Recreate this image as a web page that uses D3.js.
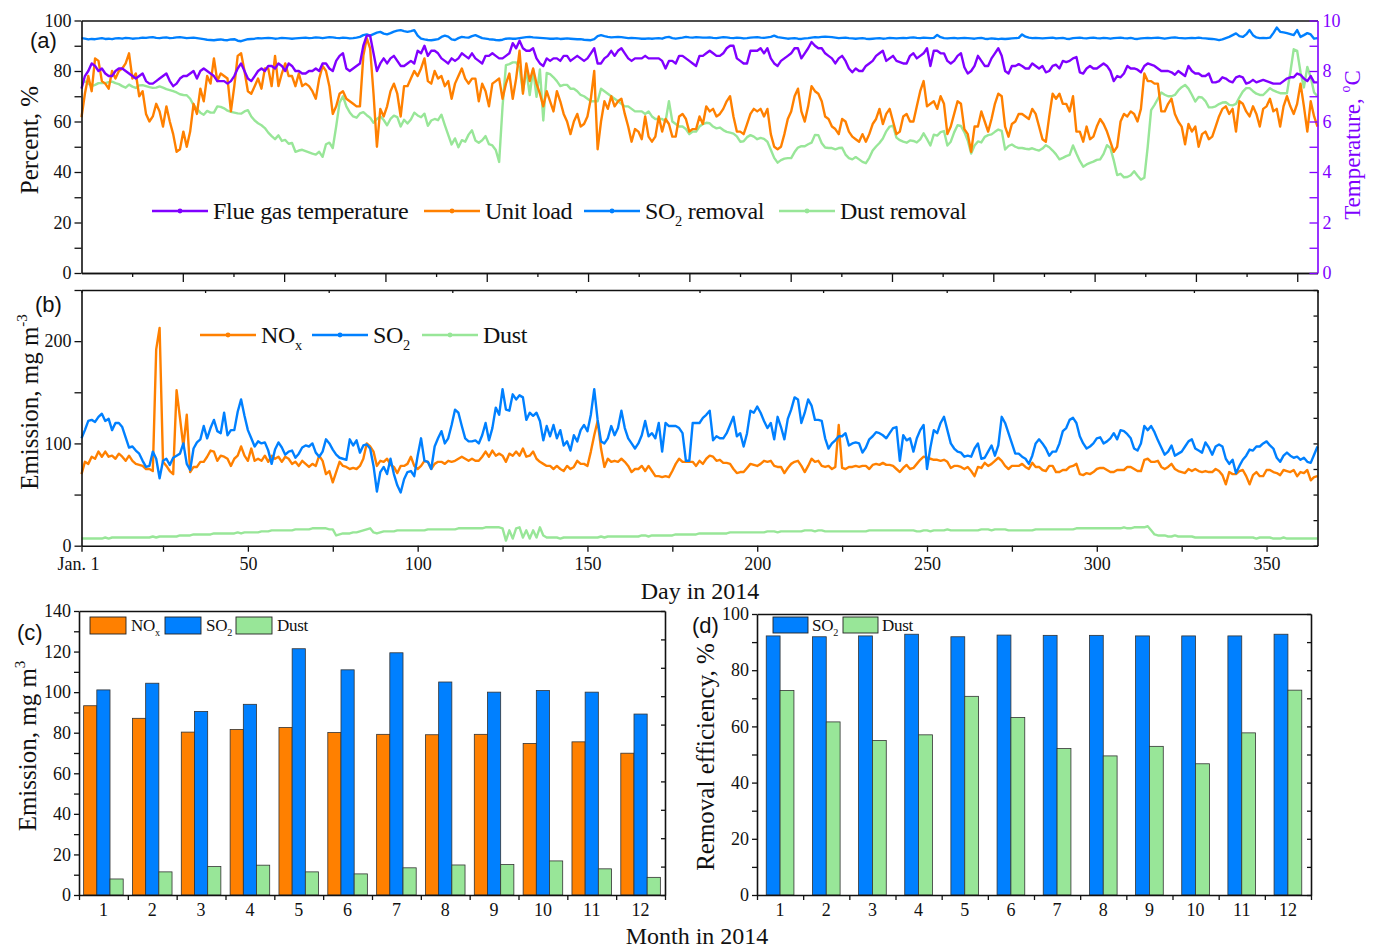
<!DOCTYPE html>
<html>
<head>
<meta charset="utf-8">
<script src="https://cdn.jsdelivr.net/npm/d3@7"></script>
<style>
  body { margin: 0; background: #fff; }
  text { font-family: "Liberation Serif", "Times New Roman", serif; }
  text.tag { font-family: "Liberation Sans", Arial, sans-serif; }
</style>
</head>
<body>
<svg id="fig" width="1373" height="948"></svg>
<script>
// ---- daily data, 2014 ----
// flue gas temperature, plotted on the right axis (0-10)
const flueTemp = [
  7.3,7.8,8.0,8.3,8.2,8.0,8.1,7.9,7.8,7.8, 8.0,8.1,8.1,8.0,7.9,7.8,7.7,7.8,7.9,7.6,
  7.5,7.5,7.6,7.7,7.8,7.9,7.6,7.4,7.5,7.7, 7.8,7.8,7.9,8.0,7.7,8.0,8.1,8.0,7.9,7.8,
  7.6,7.6,7.6,7.5,7.6,7.8,8.1,8.3,8.0,7.7, 7.6,7.8,8.0,8.1,8.0,8.2,8.2,8.1,8.3,8.2,
  8.0,8.3,8.2,8.0,8.0,7.9,7.9,8.0,8.0,8.1, 8.0,8.3,8.3,8.1,8.0,8.4,8.6,8.7,8.1,8.0,
  8.1,8.2,8.3,9.0,9.4,9.4,8.7,8.0,8.3,8.5, 8.3,8.5,8.6,
  8.4,8.2,8.2,8.3,8.4,8.3,8.8,
  8.7,9.0,8.6,8.8,8.8,8.7,8.5,8.4,8.3,8.5, 8.4,8.5,8.7,8.6,8.5,8.7,8.5,8.4,8.3,8.6,
  8.6,8.7,8.6,8.5,8.5,8.6,8.7,9.1,8.9,9.2, 8.9,8.8,8.8,8.9,8.5,8.3,8.2,8.5,8.4,8.5,
  8.5,8.4,8.6,8.6,8.4,8.5,8.6,8.5,8.4,8.5, 8.7,8.9,8.3,8.3,8.5,8.6,8.8,8.6,8.8,8.9,
  8.7,8.5,8.4,8.5,8.5,8.5,8.6,8.5,8.5,8.5, 8.5,8.4,8.1,8.4,8.4,8.3,8.6,8.6,8.5,8.4,
  8.3,8.2,8.6,8.6,
  8.7,8.8,8.7,8.6,8.6,8.7,8.9,9.0,9.0,8.5, 8.4,8.3,8.3,8.8,8.8,8.8,8.9,8.7,8.9,8.5,
  8.3,8.2,8.4,8.5,8.6,8.7,8.9,8.9,8.5,8.7, 8.9,9.15,9.0,8.9,8.9,8.7,8.6,8.5,8.3,8.5,
  8.6,8.4,8.1,7.95,8.1,8.0,8.0,8.2,8.3,8.4, 8.6,8.7,8.8,8.4,8.5,8.6,8.4,8.35,8.3,8.3,
  8.6,8.7,8.5,8.6,8.7,8.9,8.2,8.8,8.8,8.7, 8.7,8.4,8.3,8.4,8.6,8.7,8.15,7.9,8.0,8.2,
  8.6,8.4,8.2,8.2,8.5,8.7,8.9,8.6,8.0,7.9, 8.2,
  8.2,8.27,8.2,8.1,8.1,8.3,8.2,8.1,8.2,7.95, 8.0,8.2,8.25,8.1,8.4,8.35,8.4,8.5,8.55,7.95,
  7.9,8.1,8.2,8.1,8.1,8.2,8.3,8.2,8.0,7.6, 7.8,7.75,7.9,8.2,8.1,8.1,8.05,7.95,8.2,8.3,
  8.25,8.2,8.1,8.0,8.0,8.0,7.95,7.85,8.0,7.9, 7.8,8.2,8.0,7.9,7.9,7.8,7.8,7.9,7.55,7.55,
  7.6,7.75,7.7,7.6,7.55,7.75,7.8,7.75,7.5,7.55, 7.65,7.55,7.6,7.65,7.6,7.55,7.5,7.5,7.5,7.6,
  7.7,7.75,7.75,7.9,7.85,7.7,7.6,7.8,7.55,7.55
];
// unit load, %
const unitLoad = [
  61.7,71,78,72,85,84,76,75,73,80, 77,80,81,83,87,77,79,70,72,63,
  60,62,67,64,58,66,60,55,48,49, 56,50,56,67,63,73,68,78,75,85,
  76,79,78,77,64,74,86,87,80,72, 71,74,77,73,81,81,74,86,74,79,
  83,78,78,74,79,74,75,74,72,69, 77,82,80,74,63,66,71,72,69,68,
  67,66,66,86,93,89,71,50,65,62, 66,72,75,
  71,62,74,74,77,80,78,
  81,85,76,75,80,77,78,74,76,69, 75,78,81,77,75,77,77,68,75,72,
  66,75,76,77,69,75,79,69,77,88, 71,83,76,81,75,71,66,72,68,64,
  72,68,63,60,55,60,63,58,59,62, 69,80,49,60,68,65,70,66,68,69,
  63,58,52,57,56,53,62,54,52,54, 62,56,61,59,54,54,62,63,61,56,
  57,57,62,59,
  66,64,65,62,63,65,68,70,62,56, 56,55,59,63,65,64,65,62,65,55,
  50,49,50,55,61,64,70,73,64,60, 66,74,72,71,68,62,61,58,57,55,
  61,60,56,54,53,52,55,52,55,59, 61,65,59,63,65,60,55,56,62,63,
  60,60,66,72,76,66,67,68,65,70, 67,55,58,63,68,67,57,55,48,58,
  58,64,60,56,61,67,71,70,58,54, 59,
  60,63,63,62,61,65,63,58,53,52, 62,71,69,71,67,67,64,70,56,56,
  52,58,53,54,58,61,59,56,52,48, 50,60,63,62,64,63,60,65,79,76,
  76,75,75,64,64,67,69,63,60,58, 51,59,56,58,50,55,56,53,54,58,
  62,65,66,63,65,56,68,67,64,62, 66,63,58,65,66,69,64,65,58,66,
  70,66,63,67,75,66,56,68,62,58
];
// SO2 removal, %
const so2Removal = [
  93.0,92.8,92.5,92.7,92.6,92.8,93.0,92.7,92.8,92.6, 92.9,93.0,92.8,93.1,93.0,92.8,92.9,93.0,93.2,93.1,
  93.3,93.4,93.1,93.0,93.2,93.3,93.0,93.1,93.3,93.4, 93.2,93.0,93.1,93.2,93.0,92.8,92.6,92.4,92.3,92.2,
  92.4,92.5,92.3,92.2,92.5,92.6,92.0,91.8,92.2,92.6, 92.7,92.8,93.0,92.9,93.0,93.1,93.0,92.8,92.9,93.1,
  93.0,92.9,92.8,92.9,93.0,93.1,93.2,93.0,93.1,93.3, 93.2,93.0,93.2,93.4,93.3,93.1,93.0,93.2,93.1,92.9,
  93.0,93.2,93.5,94.2,94.5,94.0,94.6,95.2,95.5,94.8, 94.5,95.0,95.6,
  96.0,96.2,95.8,95.5,95.8,96.2,94.0,
  92.8,92.5,92.3,92.2,92.4,92.6,93.5,94.0,93.6,92.5, 92.3,93.0,93.5,93.3,93.2,93.8,94.2,93.6,93.0,92.8,
  92.6,92.5,92.3,92.2,92.4,92.8,92.9,92.8,92.8,93.0, 93.2,93.4,93.5,93.3,93.2,93.1,93.0,92.9,92.8,92.8,
  92.9,92.7,92.8,92.9,92.8,92.7,92.6,92.6,92.4,92.3, 92.2,92.6,93.8,94.2,93.8,93.5,93.3,93.4,93.5,93.4,
  93.2,93.0,93.1,93.0,92.9,92.8,92.8,92.9,92.8,92.9, 93.0,92.8,93.3,93.5,93.0,92.8,93.0,93.2,93.5,93.3,
  93.2,93.4,93.3,93.2,
  93.2,93.3,93.1,93.0,93.2,93.4,93.3,93.1,93.0,93.2, 93.1,92.9,93.0,93.2,93.3,93.4,93.2,93.1,93.3,93.5,
  94.0,93.4,93.2,93.0,92.8,92.9,93.0,92.8,92.7,92.9, 93.0,93.2,93.4,93.3,93.5,93.6,93.5,93.4,93.2,93.0,
  93.1,93.2,93.0,92.9,92.8,92.9,93.0,92.8,92.7,92.8, 92.9,93.0,92.8,92.9,93.1,93.0,92.9,93.0,93.1,93.0,
  93.2,93.3,93.1,93.0,93.2,93.1,93.0,93.1,94.3,93.4, 93.0,92.9,93.0,93.1,92.9,93.0,93.1,93.0,92.9,92.8,
  93.0,93.1,92.8,92.7,92.9,92.8,92.6,92.8,92.7,92.8, 92.9,
  93.0,93.1,94.5,93.6,93.2,93.0,93.1,93.0,92.9,93.0, 93.1,93.2,92.9,93.0,93.1,92.8,92.7,93.0,93.1,93.2,
  93.0,92.9,93.1,93.2,93.0,92.9,93.1,93.0,92.8,93.0, 93.1,93.2,93.0,92.9,93.1,92.8,92.7,92.9,93.0,93.1,
  93.0,93.1,93.2,93.0,92.8,93.0,93.2,93.3,93.1,93.0, 92.9,93.0,93.1,93.0,93.2,93.0,92.9,92.8,92.7,92.5,
  92.2,92.5,93.0,93.5,94.2,94.9,93.8,93.5,94.5,96.2, 94.2,93.3,93.0,93.1,93.0,93.2,95.0,97.2,95.5,95.3,
  95.0,94.6,94.2,96.2,93.5,94.2,95.0,94.5,92.8,93.0
];
// dust removal, %
const dustRemoval = [
  75.2,75.9,75,74,74.5,75.2,75.2,75.2,75.6,75.8, 75.2,74.8,74,73.4,74.6,73.8,73.3,74.3,74.4,74,
  73.6,73.3,73.4,73.9,73.4,72.8,72.4,72,71.5,70.8, 70.5,70.4,69,66.5,65,63.5,62.7,64.2,63.5,63.5,
  66,65.8,65.2,64.3,63.8,63.5,63.2,63.1,64,64.5, 62,60.4,59.3,58.5,57.4,55.6,54.2,53,54.5,52.3,
  52.7,51.2,51.5,48,48.5,48.8,48.3,47.8,47.3,46.9, 48,46,51,51.6,49.5,58,67.5,70,66,63.6,
  62,61.5,63.2,63.7,62.5,61.5,59.5,61,62,60.6, 58.5,61,62.3,
  61.7,58,60.7,59.2,60.8,63.5,62.4,
  61.7,63.1,58.3,60.4,61,60.5,62.7,58.6,54.7,50.9, 53.3,49.8,52.6,52,54.8,56.5,52.5,51.6,52.6,54.2,
  51,50.5,48.7,44,66,82.3,82.7,83.4,83.4,81.3, 71.9,80.6,70.5,80.6,69.8,80.6,60.4,79.2,78.8,77.5,
  76,74,74.5,74.5,73,73,72,70.5,70,69, 68,68,68,73,72,71,70,69,68,67,
  66,66,65,64,64,64,63,64,62,61, 61,61,60,68,60,59,58,58,57,55,
  56,56,58,59,
  59.5,59.3,58,57.3,57.6,56.6,55.9,55.6,55.2,54.1, 52,52.2,53.8,54.6,54,53,53.5,53.1,52,48.8,
  45.6,43.7,44.7,45.3,45.5,45.5,47.9,49.7,50.2,50.2, 51,51.6,54.7,54.6,51.4,49.7,49.5,49.5,49,49.5,
  49.6,46.9,45.5,45,45.9,45,44,43.5,45.6,48.5, 50.1,51.5,53.3,56.1,58,58.3,53.6,52.6,52,51.6,
  52.5,52.3,51.7,52.9,55.3,53,50.5,54.8,54.4,55.8, 56.2,50.5,52,55.7,58.5,58.2,55.8,52.5,47.3,50.5,
  52.1,51.7,53.9,54.6,54.9,55.9,56.8,56.3,48.9,50.3, 50.9,
  50,49.5,49.5,49.2,49,49.4,48.9,48.5,49.3,50.6, 49.8,48.5,47,45,45.6,46.3,46.8,50.5,47.3,44.4,
  42.1,43,43.6,44.1,44.8,45,47.2,50.6,49.5,44.6, 38.8,39.3,37.9,38,38.7,40.3,38.5,37,37.7,50,
  64.5,66.6,69,71.5,70.6,70,70,70.5,72.3,73.6, 74.5,73,70.6,67.9,69.7,69.5,68.1,65.6,65.6,66,
  66.9,67.5,67.6,66.6,66.4,67,69.6,71.8,73.2,73.2, 72,71,70.5,70.5,71.8,73.2,72.3,71.7,71.2,71.2,
  71.2,79.5,88.6,88,79.5,73.5,81.6,77.5,71.5,70
];
// emissions, mg m-3
const noxEmission = [
  70,82,80,87,85,92,87,92,87,88, 85,90,87,83,88,83,80,79,78,75,
  75,73,192,213,82,78,73,70,152,125, 97,128,72,77,77,82,82,87,93,92,
  83,88,87,85,78,85,88,97,88,83, 95,83,85,83,88,82,88,85,87,82,
  87,85,80,82,78,83,80,77,80,78, 88,83,70,73,62,72,82,78,77,75,
  76,75,78,85,100,97,92,78,83,82, 85,79,77,
  71,78,78,80,87,78,75,
  78,83,82,75,80,82,82,80,83,82, 83,85,87,85,83,85,83,83,87,92,
  87,93,88,90,88,82,90,88,92,88, 95,87,88,92,85,82,80,78,78,75,
  78,75,73,78,75,77,83,80,80,78, 92,108,122,95,77,85,82,83,82,85,
  82,78,72,75,75,78,73,78,73,68, 68,67,68,67,73,80,85,82,82,82,
  82,78,83,80,
  85,88,87,83,84,81,81,80,75,71, 72,72,76,80,79,78,80,83,82,83,
  78,77,77,71,76,80,82,83,78,72, 78,85,82,83,78,77,78,75,77,118,
  76,75,77,77,78,77,78,78,75,79, 80,79,81,79,79,78,75,72,76,79,
  75,76,80,84,87,86,85,84,84,83, 84,82,76,78,78,77,75,77,73,68,
  77,76,81,78,80,83,86,83,78,75, 78,
  78,78,80,77,75,81,77,77,74,73, 78,78,72,72,74,74,77,78,80,70,
  69,71,70,72,75,76,76,74,72,72, 74,74,74,77,77,75,73,73,84,85,
  82,82,83,77,75,77,80,75,73,72, 71,75,73,75,73,72,73,72,72,75,
  73,69,60,72,70,70,73,74,68,60, 69,72,68,68,74,74,72,71,69,74,
  73,72,74,68,72,71,74,64,67,68
];
const so2Emission = [
  105,113,122,123,121,126,129,122,124,113, 120,120,116,106,96,97,93,90,83,77,
  78,92,85,66,83,85,79,86,88,90, 100,80,74,95,101,104,117,105,115,123,
  112,110,130,108,113,113,131,143,127,113, 105,97,102,100,101,93,80,94,101,96,
  89,92,93,86,90,96,98,97,100,91, 87,92,104,100,94,89,86,85,84,104,
  98,103,91,98,99,95,78,53,72,77, 70,85,70,
  59,52,65,72,73,68,88,
  105,83,82,75,97,105,112,100,105,118, 133,130,117,105,102,102,103,100,108,120,
  103,115,135,128,153,133,132,148,143,147, 145,123,130,127,130,122,103,117,107,118,
  105,113,98,102,93,108,102,113,118,112, 128,153,123,102,100,105,117,108,115,132,
  115,105,100,95,100,108,122,107,110,105, 120,92,120,117,117,117,115,110,83,83,
  120,120,120,125,
  128,132,103,107,105,105,110,118,126,107, 110,97,110,132,130,136,130,122,115,120,
  104,126,116,104,124,133,145,143,120,130, 143,137,123,123,122,105,95,100,103,107,
  107,110,98,100,101,100,91,96,104,107, 111,110,108,105,110,115,116,83,108,103,
  105,92,105,113,118,75,96,113,110,120, 126,113,100,95,92,91,87,88,87,95,
  100,85,86,92,98,88,98,126,120,110, 100,
  90,90,87,85,80,88,100,104,100,95, 88,92,92,100,112,115,123,125,120,107,
  100,95,97,100,105,106,100,102,105,110, 104,113,112,109,105,95,93,100,117,113,
  117,111,103,96,89,92,98,88,90,92, 97,102,104,95,93,91,101,96,89,97,
  99,97,85,80,84,71,78,84,88,94, 93,97,97,100,102,98,95,86,82,88,
  91,88,86,87,84,86,82,81,89,97
];
const dustEmission = [
  7,7,7,7,7,7,7,8,7,8, 8,8,8,8,8,8,8,8,8,8,
  8,9,8,9,9,9,9,9,9,10, 10,10,10,11,11,11,11,11,11,12,
  12,12,12,12,12,12,13,12,13,13, 13,13,13,14,14,14,15,15,15,15,
  15,15,15,16,16,16,16,16,17,17, 17,17,17,16,16,10,11,12,12,12,
  13,13,14,15,16,17,13,12,13,14, 14,14,14,
  15,15,15,15,15,15,15,
  15,15,16,16,16,16,16,16,16,16, 16,17,17,17,17,17,17,17,17,18,
  18,18,18,18,17,5,15,7,17,18, 8,15,7,15,8,18,10,8,8,8,
  8,7,8,8,8,8,8,8,8,8, 8,8,8,9,8,9,9,9,9,9,
  9,9,9,9,9,10,10,9,10,10, 10,10,10,10,10,11,11,11,11,11,
  11,11,12,12,
  12,12,12,12,12,12,12,13,13,13, 13,13,13,13,13,13,13,13,14,14,
  14,13,14,14,14,14,14,14,14,15, 15,15,14,15,15,14,14,14,14,14,
  14,14,14,14,14,14,14,14,15,15, 15,15,15,15,15,15,15,15,15,15,
  15,15,14,14,15,15,14,15,15,15, 15,16,15,15,15,15,15,15,15,15,
  15,16,16,16,15,16,16,16,16,15, 15,
  15,15,15,15,15,15,16,16,16,16, 16,16,16,16,16,16,16,16,17,17,
  17,17,17,17,17,17,17,17,17,17, 17,17,18,17,17,18,18,18,18,19,
  15,11,10,10,10,9,9,10,9,9, 9,9,9,8,8,8,8,8,8,8,
  8,8,8,8,8,8,8,8,8,8, 8,7,8,8,8,8,7,7,7,8,
  7,7,7,7,7,7,7,7,7,7
];

// ---- monthly data ----
const months = [1,2,3,4,5,6,7,8,9,10,11,12];
const monthNOx  = [93.3,87.1,80.3,81.6,82.6,80.1,79.2,79.0,79.2,74.7,75.5,69.9];
const monthSO2  = [101.1,104.4,90.5,94.0,121.4,111.0,119.4,105.0,100.0,100.8,100.0,89.2];
const monthDust = [7.9,11.4,14.0,14.7,11.4,10.4,13.4,14.8,15.0,16.8,12.9,8.7];
const effSO2  = [92.2,91.9,92.2,92.8,91.9,92.5,92.4,92.4,92.2,92.2,92.2,92.8];
const effDust = [72.8,61.6,55.0,57.0,70.7,63.2,52.1,49.5,52.9,46.7,57.7,72.9];

const days = d3.range(1, flueTemp.length + 1);

const col = { orange: '#ff8000', blue: '#0080ff', purple: '#8000ff', green: '#98e698', ink: '#111' };
const svg = d3.select('#fig');
svg.append('rect').attr('width', 1373).attr('height', 948).attr('fill', '#fff');

function styleAxis(g, color, size) {
  g.attr('font-family', null).attr('font-size', size);
  g.select('.domain').attr('stroke', color).attr('stroke-width', 1.6);
  g.selectAll('.tick line').attr('stroke', color).attr('stroke-width', 1.3);
  g.selectAll('.tick text').attr('fill', color);
  return g;
}
function axisAt(x, y, axis, color = col.ink, size = 18) {
  return styleAxis(svg.append('g').attr('transform', `translate(${x},${y})`).call(axis), color, size);
}
function drawLine(arr, x, y, color, w = 2.4) {
  const line = d3.line().x((d, i) => x(days[i])).y(d => y(d));
  svg.append('path').datum(arr).attr('d', line)
    .attr('fill', 'none').attr('stroke', color).attr('stroke-width', w)
    .attr('stroke-linejoin', 'round');
}
// text with a sub/superscript piece: parts = [[text, shift], ...]
function richText(x, y, parts, size, opts = {}) {
  const t = svg.append('text').attr('x', x).attr('y', y).attr('font-size', size)
    .attr('fill', opts.fill || col.ink);
  if (opts.anchor) t.attr('text-anchor', opts.anchor);
  if (opts.rotate) t.attr('transform', `rotate(-90,${x},${y})`);
  if (opts.spacing) t.attr('letter-spacing', opts.spacing);
  if (opts.cls) t.attr('class', opts.cls);
  let prev = 0;
  parts.forEach(([s, shift]) => {
    t.append('tspan').text(s).attr('dy', shift - prev)
      .attr('font-size', shift ? size * 0.6 : size);
    prev = shift;
  });
  return t;
}
function label(x, y, s, size, opts = {}) { return richText(x, y, [[s, 0]], size, opts); }

// ================= panel (a) =================
const pA = { l: 81.5, r: 1317.5, t: 20.5, b: 273 };
const xDay = d3.scaleLinear().domain([1, 365]).range([pA.l, pA.r]);
const xMonthTicks = d3.scaleLinear().domain([0, 366]).range([pA.l, pA.r]);
const yA = d3.scaleLinear().domain([0, 100]).range([pA.b, pA.t]);
const yTemp = d3.scaleLinear().domain([0, 10]).range([pA.b, pA.t]);

drawLine(dustRemoval, xDay, yA, col.green);
drawLine(unitLoad, xDay, yA, col.orange);
drawLine(so2Removal, xDay, yA, col.blue);
drawLine(flueTemp, xDay, yTemp, col.purple);

axisAt(0, pA.t, d3.axisTop(xDay).tickValues([]).tickSizeOuter(0));
axisAt(0, pA.b, d3.axisBottom(xMonthTicks).tickValues(d3.range(15, 366, 30)).tickSize(4).tickSizeOuter(0).tickFormat(''));
axisAt(0, pA.b, d3.axisBottom(xMonthTicks).tickValues(d3.range(30, 366, 30)).tickSize(9).tickSizeOuter(0).tickFormat(''));
axisAt(pA.l, 0, d3.axisLeft(yA).tickValues(d3.range(0, 101, 10)).tickSize(7).tickPadding(3)
  .tickSizeOuter(0).tickFormat(d => d % 20 === 0 ? d : ''));
axisAt(pA.r, 0, d3.axisRight(yTemp).tickValues(d3.range(0, 11, 1)).tickSize(-8).tickPadding(5)
  .tickSizeOuter(0).tickFormat(d => d % 2 === 0 ? d : ''), col.purple);

label(30, 48, '(a)', 22, { cls: 'tag' });
label(38, 140, 'Percent, %', 25, { anchor: 'middle', rotate: true });
richText(1360, 145, [['Temperature, ', 0], ['o', -10], ['C', 0]], 23,
  { anchor: 'middle', rotate: true, fill: col.purple });

const legA = [
  { x: 152, color: col.purple, parts: [['Flue gas temperature', 0]] },
  { x: 424, color: col.orange, parts: [['Unit load', 0]] },
  { x: 584, color: col.blue, parts: [['SO', 0], ['2', 7], [' removal', 0]] },
  { x: 779, color: col.green, parts: [['Dust removal', 0]] }
];
legA.forEach(d => {
  svg.append('line').attr('x1', d.x).attr('x2', d.x + 56).attr('y1', 211).attr('y2', 211)
    .attr('stroke', d.color).attr('stroke-width', 2.6);
  svg.append('circle').attr('cx', d.x + 28).attr('cy', 211).attr('r', 2.4).attr('fill', d.color);
  richText(d.x + 61, 219, d.parts, 24, { spacing: -0.3 });
});

// ================= panel (b) =================
const pB = { l: 81.5, r: 1317.5, t: 290, b: 545.7 };
const yB = d3.scaleLinear().domain([0, 250]).range([pB.b, pB.t]);
const xTen = d3.scaleLinear().domain([0, 10]).range([pB.l, pB.r]);

drawLine(noxEmission, xDay, yB, col.orange);
drawLine(so2Emission, xDay, yB, col.blue);
drawLine(dustEmission, xDay, yB, col.green);

axisAt(0, pB.t, d3.axisTop(xTen).ticks(10).tickSize(-3).tickSizeOuter(0).tickFormat(''));
axisAt(pB.r, 0, d3.axisRight(yB).tickValues(d3.range(0, 251, 25)).tickSize(-4).tickSizeOuter(0).tickFormat(''));
axisAt(pB.l, 0, d3.axisLeft(yB).tickValues(d3.range(0, 251, 50)).tickSize(7).tickPadding(3)
  .tickSizeOuter(0).tickFormat(d => d % 100 === 0 ? d : ''));
const gxB = axisAt(0, pB.b, d3.axisBottom(xDay).tickValues([1].concat(d3.range(25, 351, 25)))
  .tickSize(6).tickPadding(6).tickSizeOuter(0)
  .tickFormat(d => d === 1 ? 'Jan. 1' : (d % 50 === 0 ? d : '')));
gxB.selectAll('.tick text').filter(d => d === 1).attr('dx', '-0.2em');

label(35, 312, '(b)', 22, { cls: 'tag' });
richText(38, 402, [['Emission, mg m', 0], ['-3', -11]], 25, { anchor: 'middle', rotate: true });
label(700, 599, 'Day in 2014', 24, { anchor: 'middle' });

const legB = [
  { x: 200, color: col.orange, parts: [['NO', 0], ['x', 7]] },
  { x: 312, color: col.blue, parts: [['SO', 0], ['2', 7]] },
  { x: 422, color: col.green, parts: [['Dust', 0]] }
];
legB.forEach(d => {
  svg.append('line').attr('x1', d.x).attr('x2', d.x + 56).attr('y1', 335).attr('y2', 335)
    .attr('stroke', d.color).attr('stroke-width', 2.6);
  svg.append('circle').attr('cx', d.x + 28).attr('cy', 335).attr('r', 2.4).attr('fill', d.color);
  richText(d.x + 61, 343, d.parts, 24, { spacing: -0.3 });
});

// ================= panel (c) =================
const pC = { l: 79, r: 665, t: 611, b: 895 };
const xC = d3.scaleBand().domain(months).range([pC.l, pC.r]);
const xCin = d3.scaleBand().domain(['NOx', 'SO2', 'Dust'])
  .range([xC.bandwidth() * 0.095, xC.bandwidth() * 0.905]);
const yC = d3.scaleLinear().domain([0, 140]).range([pC.b, pC.t]);
const xCedge = d3.scaleLinear().domain([0.5, 12.5]).range([pC.l, pC.r]);

const seriesC = [
  { key: 'NOx', vals: monthNOx, color: col.orange },
  { key: 'SO2', vals: monthSO2, color: col.blue },
  { key: 'Dust', vals: monthDust, color: col.green }
];
seriesC.forEach(s => {
  svg.append('g').selectAll('rect').data(s.vals).join('rect')
    .attr('x', (d, i) => xC(months[i]) + xCin(s.key))
    .attr('width', xCin.bandwidth())
    .attr('y', d => yC(d)).attr('height', d => yC(0) - yC(d))
    .attr('fill', s.color).attr('stroke', '#333').attr('stroke-width', 0.8);
});

axisAt(0, pC.t, d3.axisTop(xCedge).tickValues([]).tickSizeOuter(0));
axisAt(pC.r, 0, d3.axisRight(yC).tickValues(d3.range(0, 141, 14)).tickSize(-4).tickSizeOuter(0).tickFormat(''));
axisAt(pC.l, 0, d3.axisLeft(yC).tickValues(d3.range(0, 141, 10)).tickSize(5).tickPadding(3)
  .tickSizeOuter(0).tickFormat(d => d % 20 === 0 ? d : ''));
axisAt(0, pC.b, d3.axisBottom(xCedge).tickValues(d3.range(0.5, 12.6, 1)).tickSize(5).tickSizeOuter(0).tickFormat(''));
axisAt(0, pC.b, d3.axisBottom(xC).tickSize(0).tickPadding(8)).select('.domain').remove();

label(17, 640, '(c)', 22, { cls: 'tag' });
richText(36, 746, [['Emission, mg m', 0], ['3', -11]], 25, { anchor: 'middle', rotate: true });
label(697, 944, 'Month in 2014', 24, { anchor: 'middle' });

const legC = [
  { x: 90, color: col.orange, parts: [['NO', 0], ['x', 5]] },
  { x: 165, color: col.blue, parts: [['SO', 0], ['2', 5]] },
  { x: 236, color: col.green, parts: [['Dust', 0]] }
];
legC.forEach(d => {
  svg.append('rect').attr('x', d.x).attr('y', 617).attr('width', 36).attr('height', 17)
    .attr('fill', d.color).attr('stroke', '#222').attr('stroke-width', 0.9);
  richText(d.x + 41, 631, d.parts, 17, { spacing: -0.3 });
});

// ================= panel (d) =================
const pD = { l: 757, r: 1311, t: 614, b: 895 };
const xD = d3.scaleBand().domain(months).range([pD.l, pD.r]);
const xDin = d3.scaleBand().domain(['SO2', 'Dust'])
  .range([xD.bandwidth() * 0.2, xD.bandwidth() * 0.8]);
const yD = d3.scaleLinear().domain([0, 100]).range([pD.b, pD.t]);
const xDedge = d3.scaleLinear().domain([0.5, 12.5]).range([pD.l, pD.r]);

const seriesD = [
  { key: 'SO2', vals: effSO2, color: col.blue },
  { key: 'Dust', vals: effDust, color: col.green }
];
seriesD.forEach(s => {
  svg.append('g').selectAll('rect').data(s.vals).join('rect')
    .attr('x', (d, i) => xD(months[i]) + xDin(s.key))
    .attr('width', xDin.bandwidth())
    .attr('y', d => yD(d)).attr('height', d => yD(0) - yD(d))
    .attr('fill', s.color).attr('stroke', '#333').attr('stroke-width', 0.8);
});

axisAt(0, pD.t, d3.axisTop(xDedge).tickValues([]).tickSizeOuter(0));
axisAt(pD.r, 0, d3.axisRight(yD).tickValues(d3.range(0, 101, 10)).tickSize(-4).tickSizeOuter(0).tickFormat(''));
axisAt(pD.l, 0, d3.axisLeft(yD).tickValues(d3.range(0, 101, 10)).tickSize(5).tickPadding(3)
  .tickSizeOuter(0).tickFormat(d => d % 20 === 0 ? d : ''));
axisAt(0, pD.b, d3.axisBottom(xDedge).tickValues(d3.range(0.5, 12.6, 1)).tickSize(5).tickSizeOuter(0).tickFormat(''));
axisAt(0, pD.b, d3.axisBottom(xD).tickSize(0).tickPadding(8)).select('.domain').remove();

label(692, 633, '(d)', 22, { cls: 'tag' });
label(714, 757, 'Removal efficiency, %', 25, { anchor: 'middle', rotate: true });

const legD = [
  { x: 773, color: col.blue, parts: [['SO', 0], ['2', 5]] },
  { x: 843, color: col.green, parts: [['Dust', 0]] }
];
legD.forEach(d => {
  svg.append('rect').attr('x', d.x).attr('y', 617).attr('width', 35).attr('height', 16)
    .attr('fill', d.color).attr('stroke', '#222').attr('stroke-width', 0.9);
  richText(d.x + 39, 631, d.parts, 17, { spacing: -0.3 });
});
</script>
</body>
</html>
